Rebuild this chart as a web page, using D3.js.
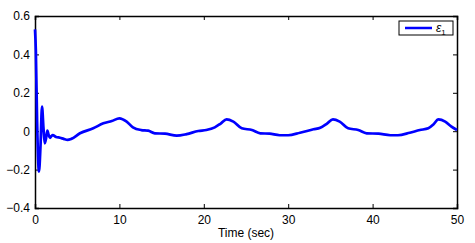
<!DOCTYPE html>
<html>
<head>
<meta charset="utf-8">
<script src="https://cdn.jsdelivr.net/npm/d3@7"></script>
<style>
body { margin: 0; background: #fff; }
text { font-family: "Liberation Sans", Arial, sans-serif; }
</style>
</head>
<body>
<svg id="chart"></svg>
<script>
// values
var time = [0, 0.1, 0.25, 0.47, 0.65, 0.83, 1.0, 1.15, 1.3, 1.46, 1.62, 1.78, 1.95, 2.1, 2.5, 2.96, 3.4, 3.85, 4.3, 5.33, 6.9, 8.1, 9.1, 10.0, 10.86, 11.6, 12.6, 13.4, 14.2, 15.4, 16.8, 17.97, 19.35, 20.3, 21.3, 22.0, 22.7, 23.5, 24.5, 25.7, 26.7, 27.8, 29.0, 30.0, 31.4, 33.0, 33.8, 34.6, 35.3, 36.1, 37.1, 38.3, 39.3, 40.7, 42.1, 43.0, 44.4, 45.6, 46.6, 47.2, 47.8, 48.6, 49.3, 50];
var eps1 = [0.53, 0.42, 0.05, -0.21, -0.08, 0.128, 0.02, -0.063, -0.04, 0.003, -0.02, -0.035, -0.025, -0.02, -0.03, -0.034, -0.04, -0.045, -0.04, -0.011, 0.015, 0.041, 0.053, 0.067, 0.05, 0.02, 0.006, 0.003, -0.011, -0.013, -0.023, -0.015, 0.001, 0.006, 0.02, 0.04, 0.062, 0.05, 0.015, 0.006, -0.011, -0.013, -0.021, -0.021, -0.008, 0.01, 0.018, 0.04, 0.062, 0.05, 0.015, 0.006, -0.011, -0.013, -0.021, -0.021, -0.008, 0.006, 0.015, 0.035, 0.062, 0.05, 0.025, 0.006];
var xTicks = [0, 10, 20, 30, 40, 50];
var yTicks = [-0.4, -0.2, 0, 0.2, 0.4, 0.6];

var screen = {width: 475, height: 243};
var margins = {top: 16, right: 18, bottom: 35, left: 35};
var width = screen.width - margins.left - margins.right;
var height = screen.height - margins.top - margins.bottom;

var svg = d3.select("#chart")
    .attr("width", screen.width)
    .attr("height", screen.height);

var g = svg.append("g")
    .attr("transform", "translate(" + margins.left + "," + margins.top + ")");

var xScale = d3.scaleLinear().domain([0, 50]).range([0, width]);
var yScale = d3.scaleLinear().domain([-0.4, 0.6]).range([height, 0]);

// axes with inward ticks, box style
var fmt = function(d) { return d === 0 ? "0" : d3.format(".1f")(d); };

g.append("g")
    .attr("transform", "translate(0," + height + ")")
    .call(d3.axisBottom(xScale).tickValues(xTicks).tickSize(-4).tickPadding(7));
g.append("g")
    .call(d3.axisTop(xScale).tickValues(xTicks).tickSize(-4).tickFormat(""));
g.append("g")
    .call(d3.axisLeft(yScale).tickValues(yTicks).tickSize(-4).tickPadding(5).tickFormat(fmt));
g.append("g")
    .attr("transform", "translate(" + width + ",0)")
    .call(d3.axisRight(yScale).tickValues(yTicks).tickSize(-4).tickFormat(""));

g.selectAll(".domain").attr("stroke", "#000").attr("stroke-width", 1.5);
g.selectAll(".tick line").attr("stroke", "#000");
g.selectAll(".tick text")
    .style("font-size", "12px")
    .attr("fill", "#000");

svg.append("text")
    .attr("x", margins.left + width / 2)
    .attr("y", 237)
    .style("text-anchor", "middle")
    .style("font-size", "12px")
    .text("Time (sec)");

var lineGenerator = d3.line()
    .x(function(d, i) { return xScale(time[i]); })
    .y(function(d) { return yScale(d); })
    .curve(d3.curveMonotoneX);

g.append("path")
    .datum(eps1)
    .attr("fill", "none")
    .attr("stroke", "#0000ff")
    .attr("stroke-width", 2.7)
    .attr("stroke-linejoin", "round")
    .attr("d", lineGenerator);

// legend
var legend = svg.append("g").attr("transform", "translate(399,21)");
legend.append("rect")
    .attr("width", 54).attr("height", 14)
    .attr("fill", "#fff").attr("stroke", "#000").attr("stroke-width", 1);
legend.append("line")
    .attr("x1", 6).attr("x2", 33).attr("y1", 7).attr("y2", 7)
    .attr("stroke", "#0000ff").attr("stroke-width", 2.5);
var lt = legend.append("text")
    .attr("x", 37).attr("y", 11)
    .style("font-size", "12px")
    .style("font-style", "italic");
lt.append("tspan").text("\u03b5");
lt.append("tspan").attr("dy", 3).style("font-size", "8px").style("font-style", "normal").text("1");
</script>
</body>
</html>
